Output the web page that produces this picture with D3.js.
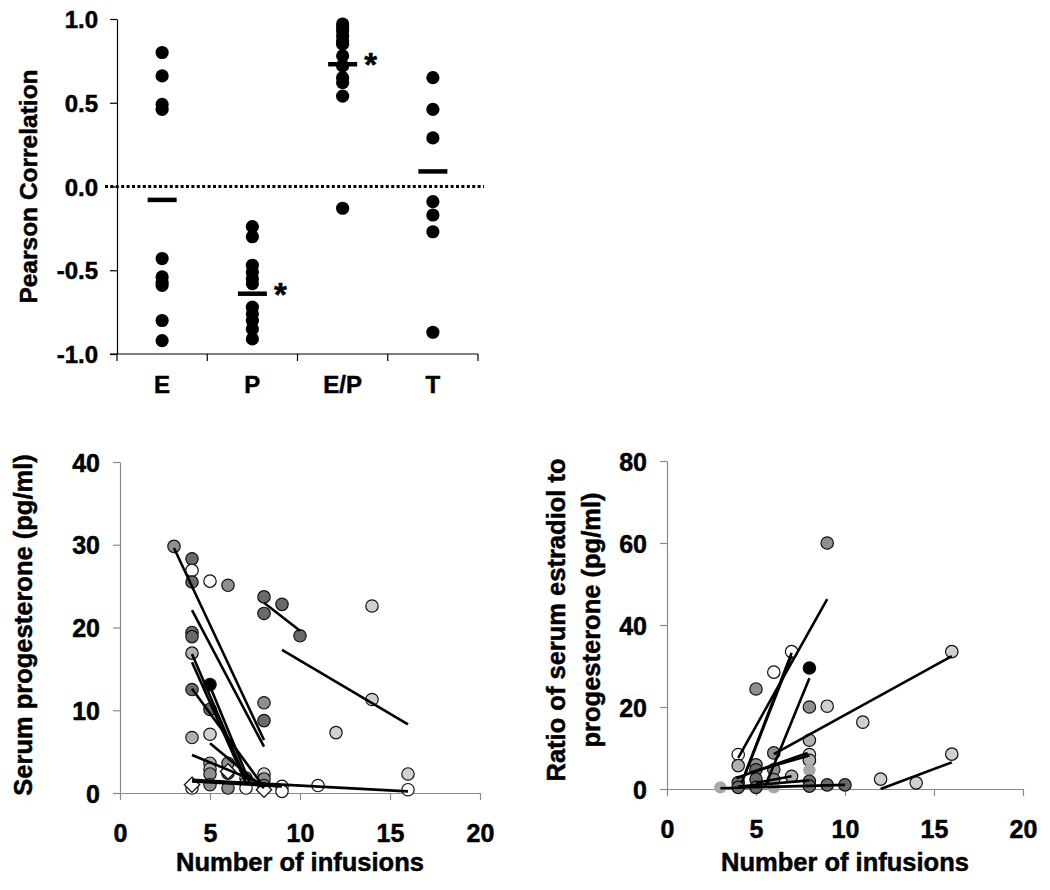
<!DOCTYPE html>
<html>
<head>
<meta charset="utf-8">
<script src="https://cdn.jsdelivr.net/npm/d3@7"></script>
<style>
  html, body { margin: 0; padding: 0; background: #fff; }
  text { font-family: "Liberation Sans", Arial, sans-serif; font-weight: bold; fill: #000; stroke: #000; stroke-width: 0.5px; }
</style>
</head>
<body>
<svg id="chart" width="1050" height="890"></svg>
<script>
// ---------- Top panel data ----------
const corrCategories = ["E", "P", "E/P", "T"];
const corrE  = [0.80, 0.66, 0.49, 0.46, -0.43, -0.54, -0.57, -0.59, -0.80, -0.92];
const corrP  = [-0.24, -0.30, -0.47, -0.51, -0.55, -0.58, -0.72, -0.76, -0.80, -0.85, -0.91];
const corrEP = [0.97, 0.95, 0.93, 0.90, 0.87, 0.85, 0.78, 0.72, 0.65, 0.62, 0.54, -0.13];
const corrT  = [0.65, 0.46, 0.29, -0.09, -0.17, -0.27, -0.87];
const corrMeans = [-0.08, -0.64, 0.73, 0.09];
const corrSignificant = [false, true, true, false];
const corrTicks = [-1.0, -0.5, 0.0, 0.5, 1.0];

// ---------- Bottom-left: progesterone vs infusions ----------
// [infusions, progesterone, subject group]
const progPoints = [
  [3, 29.8, "B"], [4, 28.3, "A"], [4, 26.9, "E"], [4, 25.5, "A"], [5, 25.6, "E"],
  [6, 25.1, "B"], [8, 23.7, "A"], [9, 22.8, "A"], [8, 21.7, "A"], [10, 19.0, "A"],
  [14, 22.6, "D"], [4, 19.4, "A"], [4, 18.9, "A"], [4, 16.9, "C"], [5, 13.1, "F"],
  [4, 12.5, "A"], [5, 10.1, "A"], [8, 10.9, "B"], [8, 8.75, "A"], [14, 11.3, "D"],
  [12, 7.3, "D"], [4, 6.7, "C"], [5, 7.1, "D"], [5, 3.6, "C"], [5, 2.9, "C"],
  [5, 2.3, "B"], [5, 1.0, "B"], [6, 3.6, "B"], [6, 2.4, "A"], [6, 0.6, "B"],
  [7, 1.8, "D"], [7, 1.2, "B"], [7, 0.6, "E"], [8, 2.3, "D"], [8, 1.7, "B"],
  [8, 0.9, "B"], [9, 0.8, "E"], [9, 0.2, "E"], [11, 0.9, "E"], [16, 2.3, "D"],
  [16, 0.4, "E"], [4, 0.6, "E"]
];
const progDiamonds = [[4, 1.0], [8, 0.4], [6, 2.6]];
// regression lines [x1, y1, x2, y2]
const progLines = [
  [3, 29.6, 8, 6.4], [4, 22.1, 8, 5.6], [8, 23.0, 10, 19.6], [9, 17.3, 16, 8.3],
  [4, 16.8, 7, 1.6], [4, 15.8, 7, 1.2], [4, 12.6, 8, 0.7], [5, 12.9, 7.2, 1.3],
  [5, 6.0, 8, 0.6], [4, 4.6, 8, 1.0], [4, 1.6, 16, 0.2], [4, 1.4, 9, 0.8]
];
const progTicksY = [0, 10, 20, 30, 40];
const infusionTicks = [0, 5, 10, 15, 20];

// ---------- Bottom-right: E/P ratio vs infusions ----------
const ratioPoints = [
  [9, 60.0, "B"], [7, 33.5, "E"], [8, 29.5, "F"], [6, 28.5, "E"], [5, 24.4, "B"],
  [8, 20.0, "B"], [9, 20.2, "D"], [11, 16.3, "D"], [16, 33.5, "D"], [16, 8.5, "D"],
  [12, 2.4, "D"], [14, 1.5, "D"], [8, 11.9, "C"], [8, 8.4, "D"], [8, 7.0, "C"],
  [8, 4.6, "G"], [8, 1.9, "A"], [8, 0.7, "A"], [9, 1.0, "A"], [10, 1.0, "A"],
  [4, 8.4, "E"], [4, 5.7, "C"], [4, 1.6, "A"], [4, 0.4, "A"], [3, 0.4, "G"],
  [5, 5.9, "B"], [5, 4.7, "A"], [5, 2.4, "A"], [5, 0.4, "A"], [6, 8.8, "B"],
  [6, 4.7, "B"], [6, 2.3, "B"], [6, 0.4, "G"], [7, 3.1, "C"]
];
const ratioLines = [
  [4, 7.6, 9, 46.3], [4.4, 3.9, 7, 33.2], [4.2, 1.5, 7, 32.5], [5.5, 0.5, 8, 27.0],
  [6, 8.5, 16, 32.4], [12, 0, 16, 6.5], [3.9, 2.7, 7.9, 8.8], [4.6, 3.9, 8, 8.2],
  [3, 0.2, 10, 1.0], [4, 0.6, 8, 2.1], [5, 1.5, 7, 3.1]
];
const ratioTicksY = [0, 20, 40, 60, 80];

// ---------- styles (not data) ----------
const groupFill = { A: "#6a6a6a", B: "#8f8f8f", C: "#b0b0b0", D: "#d0d0d0", E: "#ffffff", F: "#000000", G: "#a8a8a8" };

const svg = d3.select("#chart");
svg.append("rect").attr("width", 1050).attr("height", 890).attr("fill", "#fff");

// ================= TOP PANEL =================
{
  const x = d3.scaleBand().domain(corrCategories).range([117, 478]).padding(0);
  const y = d3.scaleLinear().domain([-1, 1]).range([354, 19]);
  const g = svg.append("g");

  const yAxis = d3.axisLeft(y).tickValues(corrTicks).tickFormat(d => d.toFixed(1))
    .tickSize(7).tickSizeOuter(0).tickPadding(12);
  const ya = g.append("g").attr("transform", "translate(117,0)").call(yAxis);
  ya.selectAll("path,line").attr("stroke", "#000").attr("stroke-width", 1.2);
  ya.selectAll("text").attr("font-size", 24).attr("dy", "0.36em");

  // x axis baseline with boundary ticks
  const bounds = corrCategories.map(c => x(c)).concat([x.range()[1]]);
  g.append("line").attr("x1", 110).attr("x2", 478).attr("y1", y(-1)).attr("y2", y(-1))
    .attr("stroke", "#000").attr("stroke-width", 1.2);
  g.selectAll(".bt").data(bounds).join("line")
    .attr("x1", d => d).attr("x2", d => d).attr("y1", y(-1)).attr("y2", y(-1) + 7)
    .attr("stroke", "#000").attr("stroke-width", 1.2);
  g.selectAll(".cl").data(corrCategories).join("text")
    .attr("x", d => x(d) + x.bandwidth() / 2).attr("y", 393)
    .attr("text-anchor", "middle").attr("font-size", 24).text(d => d);

  // zero dotted line
  g.append("line").attr("x1", 105).attr("x2", 484).attr("y1", y(0)).attr("y2", y(0))
    .attr("stroke", "#000").attr("stroke-width", 2.8).attr("stroke-dasharray", "3,2.4");

  const series = [corrE, corrP, corrEP, corrT];
  series.forEach((vals, i) => {
    const cx = x(corrCategories[i]) + x.bandwidth() / 2;
    g.append("g").selectAll("circle").data(vals).join("circle")
      .attr("cx", cx).attr("cy", d => y(d)).attr("r", 6.6).attr("fill", "#000");
    g.append("line").attr("x1", cx - 14.5).attr("x2", cx + 14.5)
      .attr("y1", y(corrMeans[i])).attr("y2", y(corrMeans[i]))
      .attr("stroke", "#000").attr("stroke-width", 4.5);
    if (corrSignificant[i]) {
      g.append("text").attr("x", cx + 28).attr("y", y(corrMeans[i]) + 12)
        .attr("text-anchor", "middle").attr("font-size", 33).text("*");
    }
  });

  g.append("text").attr("transform", "translate(37," + ((19 + 354) / 2) + ") rotate(-90)")
    .attr("text-anchor", "middle").attr("font-size", 24.5).text("Pearson Correlation");
}

// ================= scatter panel helper =================
function scatterPanel(opts) {
  const x = d3.scaleLinear().domain([0, 20]).range([opts.left, opts.right]);
  const y = d3.scaleLinear().domain(opts.yDomain).range([opts.bottom, opts.top]);
  const g = svg.append("g");
  const axisColor = "#8a8a8a";

  const ya = g.append("g").attr("transform", `translate(${opts.left},0)`)
    .call(d3.axisLeft(y).tickValues(opts.yTicks).tickSize(7).tickSizeOuter(0).tickPadding(13));
  const xa = g.append("g").attr("transform", `translate(0,${opts.bottom})`)
    .call(d3.axisBottom(x).tickValues(infusionTicks).tickSize(7).tickSizeOuter(0).tickPadding(24));
  [ya, xa].forEach(a => {
    a.selectAll("path,line").attr("stroke", axisColor).attr("stroke-width", 1.2);
    a.selectAll("text").attr("font-size", 25);
  });
  ya.selectAll("text").attr("dy", "0.36em");

  g.append("text").attr("x", (opts.left + opts.right) / 2).attr("y", 871)
    .attr("text-anchor", "middle").attr("font-size", 25.5).text("Number of infusions");

  opts.yLabel.forEach((t, i) => {
    g.append("text")
      .attr("transform", `translate(${opts.yLabelX[i]},${opts.yLabelY}) rotate(-90)`)
      .attr("text-anchor", "middle").attr("font-size", 25.5).text(t);
  });

  // points
  g.append("g").selectAll("circle").data(opts.points).join("circle")
    .attr("cx", d => x(d[0])).attr("cy", d => y(d[1])).attr("r", 6.2)
    .attr("fill", d => groupFill[d[2]])
    .attr("stroke", d => d[2] === "G" ? "none" : "#111")
    .attr("stroke-width", 1.2);
  // diamonds
  g.append("g").selectAll("path").data(opts.diamonds || []).join("path")
    .attr("d", d3.symbol().type(d3.symbolDiamond2).size(150))
    .attr("transform", d => `translate(${x(d[0])},${y(d[1])})`)
    .attr("fill", "#fff").attr("stroke", "#111").attr("stroke-width", 1.3);
  // regression lines
  g.append("g").selectAll("line").data(opts.lines).join("line")
    .attr("x1", d => x(d[0])).attr("y1", d => y(d[1]))
    .attr("x2", d => x(d[2])).attr("y2", d => y(d[3]))
    .attr("stroke", "#000").attr("stroke-width", 2.6);
}

scatterPanel({
  left: 120, right: 480, top: 462, bottom: 793, yDomain: [0, 40], yTicks: progTicksY,
  points: progPoints, diamonds: progDiamonds, lines: progLines,
  yLabel: ["Serum progesterone (pg/ml)"], yLabelX: [32], yLabelY: 625
});

scatterPanel({
  left: 667, right: 1023, top: 461, bottom: 789, yDomain: [0, 80], yTicks: ratioTicksY,
  points: ratioPoints, diamonds: [], lines: ratioLines,
  yLabel: ["Ratio of serum estradiol to", "progesterone (pg/ml)"], yLabelX: [565, 600], yLabelY: 620
});
</script>
</body>
</html>
